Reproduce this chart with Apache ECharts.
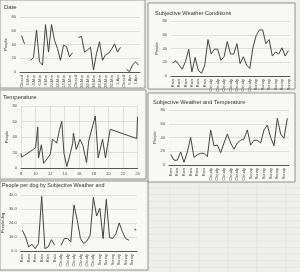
<!DOCTYPE html>
<html><head><meta charset="utf-8">
<script src="https://cdn.jsdelivr.net/npm/echarts@6/dist/echarts.min.js"></script>
<style>html,body{margin:0;padding:0;background:#efefec}#c{width:300px;height:272px}</style>
</head><body><div id="c"></div>
<script>
// ---- data ----
const dateCats = ["Closed","1-Mar","2-Mar","3-Mar","4-Mar","5-Mar","6-Mar","7-Mar","8-Mar","9-Mar","10-Mar","11-Mar","12-Mar","13-Mar","14-Mar","15-Mar","16-Mar","17-Mar","Closed","19-Mar","20-Mar","21-Mar","22-Mar","23-Mar","24-Mar","25-Mar","26-Mar","27-Mar","28-Mar","29-Mar","30-Mar","31-Mar","1-Apr","2-Apr","Closed","4-Apr","5-Apr","6-Apr","7-Apr","8-Apr"];
const datePeople = [53,41,null,17,21,61,15,10,69,29,69,46,34,17,39,37,22,28,null,50,52,29,32,36,3,27,44,17,25,27,33,41,29,36,null,4,0.5,10,15,10];

const swcCats = ["Rain","Rain","Rain","Rain","Rain","Rain","Rain","Rain","Rain","Rain","Rain","Cloudy","Cloudy","Cloudy","Cloudy","Cloudy","Cloudy","Cloudy","Cloudy","Cloudy","Cloudy","Cloudy","Cloudy","Cloudy","Cloudy","Sunny","Sunny","Sunny","Sunny","Sunny","Sunny","Sunny","Sunny","Sunny","Sunny","Sunny","Sunny"];
const swcPeople = [19,22,16,10,21,39,6,27,8,4,16,53,32,39,39,23,28,50,32,32,47,18,28,16,11,42,59,67,67,47,53,29,35,32,41,29,37];

const tempX = [8,8.1,9.7,10,10.3,10.4,10.8,11.1,12,12.2,12.3,12.6,12.9,13.3,13.6,13.9,14.3,14.8,15.1,15.2,15.6,16.1,16.5,17,17.3,18.2,18.6,19.2,19.6,20.25,23.9,24];
const tempPeople = [19,14,24,26,53,13,30,6,17,28,37,35,32,50,60,19,2,20,32,45,24,37,29,7,35,67,13,37,13,50,38,66];
const tempTicks = [8,10,12,14,16,18,20,22,24];

const swtCats = ["Rain","Rain","Rain","Rain","Rain","Rain","Rain","Rain","Rain","Rain","Rain","Cloudy","Cloudy","Cloudy","Cloudy","Cloudy","Cloudy","Cloudy","Cloudy","Cloudy","Cloudy","Cloudy","Cloudy","Cloudy","Sunny","Sunny","Sunny","Sunny","Sunny","Sunny","Sunny","Sunny","Sunny","Sunny","Sunny","Sunny"];
const swtPeople = [15.5,7,7,19,4,19,40,11,15,17,17,12,51,28,29,18,32,45,32,23,32,36,38,51,29,36,36,32,51,58,40,28,68,45,39,68];

const dogCats = ["Rain","Rain","Rain","Rain","Rain","Rain","Rain","Rain","Rain","Rain","Rain","Cloudy","Cloudy","Cloudy","Cloudy","Cloudy","Cloudy","Cloudy","Cloudy","Cloudy","Cloudy","Cloudy","Cloudy","Cloudy","Sunny","Sunny","Sunny","Sunny","Sunny","Sunny","Sunny","Sunny","Sunny","Sunny","Sunny","Sunny"];
const dogPerDog = [14.9,10,2.9,4.8,1.7,5.3,39,1.7,2.9,8.1,4.1,null,4,8.9,8.9,6.5,32.8,22,8.9,5.3,7.2,11.3,38.3,25,30.4,8.9,36.9,9.6,8.9,12.5,20.1,13.7,8.9,7.7,null,15.3];

const titles = ["Date","Subjective Weather Conditions","Temperature","Subjective Weather and Temperature","People per dog by Subjective Weather and"];

// ---- helpers ----
const lineCol = '#3a3a3a';
const tickFont = {fontSize:4, color:'#4a4a4a', fontFamily:'Liberation Sans'};
function yAx(gi, max, interval, name, fmt){
  return {gridIndex:gi, type:'value', min:0, max:max, interval:interval,
    name:name, nameLocation:'middle', nameGap:11, nameRotate:90,
    nameTextStyle:{fontSize:4, color:'#333', fontFamily:'Liberation Sans'},
    axisLine:{show:false}, axisTick:{show:false},
    axisLabel:Object.assign({margin:4, formatter:fmt||'{value}'}, tickFont),
    splitLine:{lineStyle:{color:'#cfcfcf', width:0.6}}};
}
function xCat(gi, cats){
  return {gridIndex:gi, type:'category', data:cats, boundaryGap:true,
    axisLine:{lineStyle:{color:'#333', width:0.8}},
    axisTick:{alignWithLabel:true, interval:1, length:2, lineStyle:{color:'#333', width:0.5}},
    axisLabel:Object.assign({rotate:90, interval:1, margin:3}, tickFont),
    splitLine:{show:false}};
}
function isolated(arr){
  return arr.map((v,i)=> (v!=null && arr[i-1]==null && arr[i+1]==null && i>0) ? [i,v] : null).filter(p=>p);
}
const lineSeries = (xi, data) => ({type:'line', xAxisIndex:xi, yAxisIndex:xi, data:data,
  showSymbol:false, symbol:'none', connectNulls:false, lineStyle:{color:lineCol, width:0.95}, z:5});

// ---- decoration: panel frames and sheet grid ----
const graphics = [];
[170,199,228,257,286].forEach(x=>graphics.push({type:'line', shape:{x1:x,y1:184,x2:x,y2:272}, style:{stroke:'#d8d8d6', lineWidth:0.6}, z:-5, silent:true}));
for(let y=188;y<272;y+=6.6) graphics.push({type:'line', shape:{x1:148,y1:y,x2:300,y2:y}, style:{stroke:'#dcdcda', lineWidth:0.6}, z:-5, silent:true});
[[0,0,145,88],[148,3,147,86],[0,90,146,89],[148,93,147,89],[0,181,148,89]].forEach(r=>{
  graphics.push({type:'rect', shape:{x:r[0],y:r[1],width:r[2],height:r[3]}, style:{fill:'#f8f8f6', stroke:'#9a9a98', lineWidth:0.8, shadowBlur:1, shadowColor:'rgba(0,0,0,0.2)'}, z:-4, silent:true});
});

const option = {
  backgroundColor:'#efefec',
  animation:false,
  title: [
    {text:titles[0], left:4, top:4, textStyle:{fontSize:6}},
    {text:titles[1], left:155, top:10, textStyle:{fontSize:5.6}},
    {text:titles[2], left:3, top:94, textStyle:{fontSize:6}},
    {text:titles[3], left:153, top:99, textStyle:{fontSize:5.6}},
    {text:titles[4], left:2, top:183, textStyle:{fontSize:5.4}}
  ].map(t=>Object.assign(t,{padding:0, textStyle:Object.assign(t.textStyle,{fontWeight:'normal', color:'#333', fontFamily:'Liberation Sans'})})),
  graphic: graphics,
  grid: [
    {left:20, top:17, width:120, height:55},
    {left:171, top:21, width:119, height:55},
    {left:21, top:106, width:116.5, height:62},
    {left:169, top:110, width:120, height:55},
    {left:17, top:195, width:120, height:56}
  ],
  xAxis: [
    xCat(0, dateCats),
    xCat(1, swcCats),
    {gridIndex:2, type:'value', min:tempTicks[0], max:tempTicks[tempTicks.length-1], interval:2,
      axisLine:{lineStyle:{color:'#333', width:0.8}}, axisTick:{show:false},
      axisLabel:Object.assign({margin:4}, tickFont),
      splitLine:{show:true, lineStyle:{color:'#cfcfcf', width:0.6}}},
    xCat(3, swtCats),
    xCat(4, dogCats)
  ],
  yAxis: [
    yAx(0, 80, 20, 'People'),
    yAx(1, 80, 20, 'People'),
    yAx(2, 80, 20, 'People'),
    yAx(3, 80, 20, 'People'),
    yAx(4, 40, 10, 'People/dog', v=>v.toFixed(1))
  ],
  series: [
    lineSeries(0, datePeople),
    lineSeries(1, swcPeople),
    lineSeries(2, tempX.map((x,i)=>[x, tempPeople[i]])),
    lineSeries(3, swtPeople),
    lineSeries(4, dogPerDog),
    {type:'scatter', xAxisIndex:4, yAxisIndex:4, data:isolated(dogPerDog), symbolSize:1.8, itemStyle:{color:lineCol}, z:5}
  ]
};
echarts.init(document.getElementById('c'), null, {renderer:'canvas'}).setOption(option);
</script></body></html>
